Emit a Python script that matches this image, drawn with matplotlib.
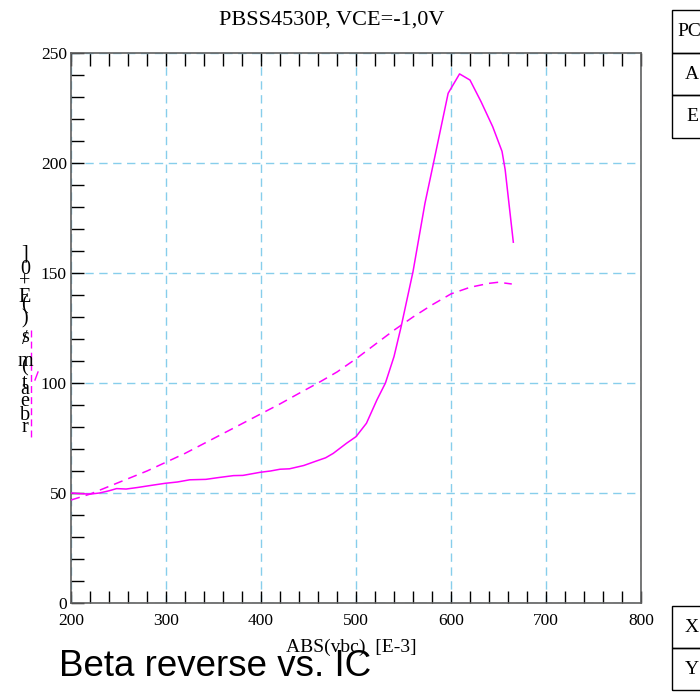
import matplotlib
matplotlib.use("Agg")
import matplotlib.pyplot as plt
from matplotlib.patches import Rectangle
from matplotlib.ticker import MultipleLocator

# ---- data ----
solid_x = [200, 210, 220, 230, 240, 248, 258, 270, 285, 299, 312, 325, 342, 355, 371, 381,
           399, 410, 420, 430, 445, 458, 468, 476, 490, 500, 511, 522, 531, 540, 547.5, 560,
           572.6, 583, 597, 609, 620, 631.6, 643.9, 653.7, 657, 665.6]
solid_y = [50, 49.7, 49.5, 50, 51, 52, 51.8, 52.5, 53.5, 54.4, 55, 56, 56.2, 57, 57.9, 58,
           59.4, 60, 60.8, 61, 62.5, 64.5, 66, 68, 72.6, 75.6, 81.7, 92.3, 100, 112, 125.6, 150.6,
           181.7, 202.9, 231.7, 240.5, 237.7, 227.9, 216.5, 205.3, 197, 164]
dash_x = [200, 220, 240, 260, 280, 300, 320, 340, 360, 380, 400, 420, 440, 460, 480, 500,
          520, 540, 560, 580, 600, 620, 640, 650, 664]
dash_y = [46.8, 49.5, 53, 56.5, 60, 64, 68, 72.5, 77, 81.5, 86, 90.5, 95.3, 100, 105, 111,
          117.5, 124, 130, 135.5, 140.5, 143.5, 145.3, 145.8, 145]
xticks = [200, 300, 400, 500, 600, 700, 800]
yticks = [0, 50, 100, 150, 200, 250]
title = "PBSS4530P, VCE=-1,0V"
xlabel = "ABS(vbc)  [E-3]"
ylabel_chars = "rbeta(m/s)(E+0]"
caption = "Beta reverse vs. IC"
box_top = ["PC", "A", "E"]
box_bot = ["X", "Y"]

W, H = 700, 696
fig = plt.figure(figsize=(W / 100, H / 100), dpi=100)
serif = "Liberation Serif"

def fx(x):
    return x / W

def fy(y):
    return 1 - y / H

L, R, T, B = 71, 641, 53, 603
ax = fig.add_axes([fx(L), fy(B), (R - L) / W, (B - T) / H])
ax.set_xlim(200, 800)
ax.set_ylim(0, 250)

mag = "#FF00FF"
ax.plot(solid_x, solid_y, color=mag, lw=1.1, zorder=3)
ax.plot(dash_x, dash_y, color=mag, lw=1.1, dashes=(6, 4), zorder=3)

ax.set_xticks(xticks)
ax.set_yticks(yticks)
ax.xaxis.set_minor_locator(MultipleLocator(20))
ax.yaxis.set_minor_locator(MultipleLocator(10))
ax.grid(True, which="major", color="#87CEEB", ls=(0, (6, 4)), lw=1.0)
ax.tick_params(which="both", direction="in", length=9, width=1.0, color="black",
               top=True, right=False, labelsize=12.5)
ax.tick_params(axis="x", which="major", pad=7)
ax.tick_params(axis="y", which="major", pad=3)
for lab in ax.get_xticklabels() + ax.get_yticklabels():
    lab.set_fontfamily(serif)
for s in ax.spines.values():
    s.set_color("#606060")
    s.set_linewidth(1.2)

fig.text(fx(332), fy(20), title, family=serif, fontsize=16, ha="center", va="center")
fig.text(fx(351), fy(647), xlabel, family=serif, fontsize=14, ha="center", va="center")
fig.text(fx(59), fy(676), caption, family="Liberation Sans", fontsize=26.5, ha="left", va="baseline")

# stacked y label characters (bottom to top)
chars = list(ylabel_chars)
positions = [428, 415, 402, 384, 389, 367, 361, 340, 337, 319, 305, 297, 282, 269, 254]
for ch, yp in zip(chars, positions):
    fig.text(fx(25), fy(yp), ch, family=serif, fontsize=14.5, ha="center", va="center")

# small legend-like marks near y label
fig.add_artist(plt.Line2D([fx(31), fx(31)], [fy(330), fy(438)], color=mag, lw=1.0,
                          dashes=(5, 3), transform=fig.transFigure))
fig.add_artist(plt.Line2D([fx(35), fx(38)], [fy(380), fy(372)], color=mag, lw=1.0,
                          transform=fig.transFigure))

# boxes on the right
def boxes(labels, top, h):
    for i, lab in enumerate(labels):
        y0 = top + i * h
        fig.add_artist(Rectangle((fx(672), fy(y0 + h)), 60 / W, h / H, fill=False,
                                 edgecolor="black", lw=1.0, transform=fig.transFigure))
        if len(lab) > 1:
            fig.text(fx(677), fy(y0 + h / 2), lab, family=serif, fontsize=14, ha="left", va="center")
        else:
            fig.text(fx(692), fy(y0 + h / 2), lab, family=serif, fontsize=14, ha="center", va="center")

boxes(box_top, 10, 42.7)
boxes(box_bot, 606, 42)

fig.savefig("out.png", dpi=100)
